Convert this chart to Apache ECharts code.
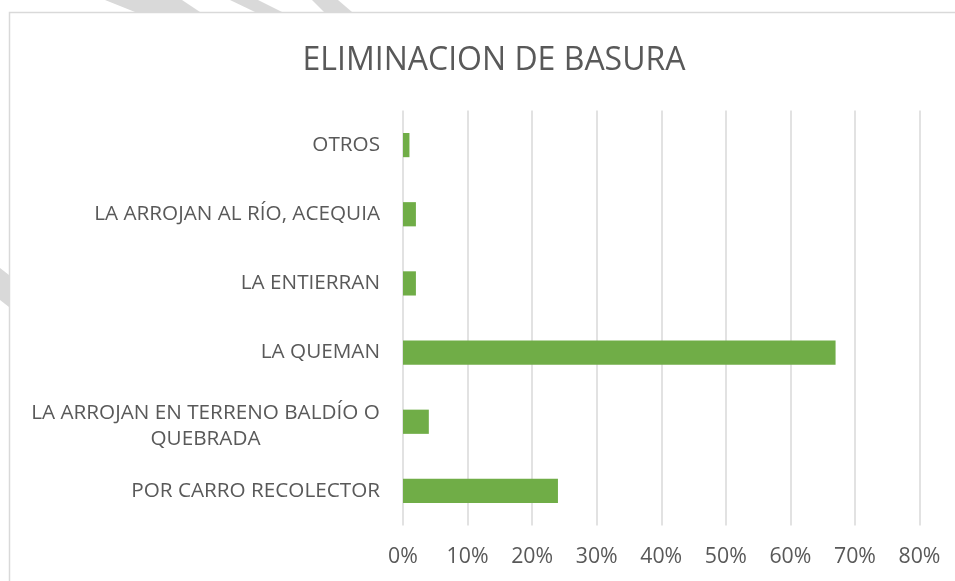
<!DOCTYPE html>
<html>
<head>
<meta charset="utf-8">
<script src="https://cdn.jsdelivr.net/npm/echarts@6/dist/echarts.min.js"></script>
<style>
html,body{margin:0;padding:0;background:#fff;}
#c{width:955px;height:581px;}
</style>
</head>
<body>
<div id="c"></div>
<script>
var titleText = 'ELIMINACION DE BASURA';
var categories = [
  'POR CARRO RECOLECTOR',
  'LA ARROJAN EN TERRENO BALDÍO O\nQUEBRADA',
  'LA QUEMAN',
  'LA ENTIERRAN',
  'LA ARROJAN AL RÍO, ACEQUIA',
  'OTROS'
];
var values = [24, 4, 67, 2, 2, 1];
var xTicks = [0, 10, 20, 30, 40, 50, 60, 70, 80];

var FONT = 'Open Sans';
var LABEL_SIZE = 20.7;
var XLABEL_SIZE = 21.3;
var TXT = '#595959';

function measure(t) {
  var cv = document.createElement('canvas').getContext('2d');
  cv.font = LABEL_SIZE + 'px "' + FONT + '"';
  return cv.measureText(t).width;
}

var maxW = 0;
categories.forEach(function (c) {
  if (c.indexOf('\n') >= 0) c.split('\n').forEach(function (p) { maxW = Math.max(maxW, measure(p)); });
});
maxW = Math.ceil(maxW);

var yData = categories.map(function (c) {
  if (c.indexOf('\n') < 0) return c;
  return {value: c, textStyle: {padding: [8, 0, 0, 0]}};
});

var chart = echarts.init(document.getElementById('c'), null, {renderer: 'canvas'});
var option = {
  backgroundColor: '#fff',
  animation: false,
  graphic: [
    {type: 'polygon', z: -10, shape: {points: [[105,0],[182,0],[200,12],[135,12]]}, style: {fill: '#d9d9d9'}},
    {type: 'polygon', z: -10, shape: {points: [[230,0],[258,0],[282,12],[255,12]]}, style: {fill: '#d9d9d9'}},
    {type: 'polygon', z: -10, shape: {points: [[312,0],[338,0],[352,12],[324,12]]}, style: {fill: '#d9d9d9'}},
    {type: 'polygon', z: -10, shape: {points: [[0,268],[9,275],[9,307],[0,300]]}, style: {fill: '#d9d9d9'}},
    {type: 'rect', z: -5, shape: {x: 9.5, y: 12.5, width: 960, height: 600}, style: {fill: '#fff', stroke: '#d9d9d9', lineWidth: 1.5}}
  ],
  title: {
    text: titleText,
    left: 489,
    textAlign: 'center',
    top: 40,
    textStyle: {fontFamily: FONT, fontSize: 32, fontWeight: 'normal', color: TXT}
  },
  grid: {left: 403, right: 35.5, top: 110.5, bottom: 55.5, containLabel: false},
  xAxis: {
    type: 'value',
    min: 0, max: 80, interval: 10,
    axisLine: {show: false},
    axisTick: {show: false},
    splitLine: {show: true, lineStyle: {color: '#d9d9d9', width: 1.5}},
    axisLabel: {
      margin: 21,
      fontFamily: FONT, fontSize: XLABEL_SIZE, color: TXT,
      formatter: function (v) { return v + '%'; }
    }
  },
  yAxis: {
    type: 'category',
    data: yData,
    axisLine: {show: false},
    axisTick: {show: false},
    splitLine: {show: false},
    axisLabel: {
      margin: 23,
      fontFamily: FONT, fontSize: LABEL_SIZE, color: TXT, lineHeight: 26,
      formatter: function (v) {
        if (v.indexOf('\n') < 0) return v;
        return v.split('\n').map(function (p) { return '{c|' + p + '}'; }).join('\n');
      },
      rich: {
        c: {width: maxW, align: 'center', fontFamily: FONT, fontSize: LABEL_SIZE, color: TXT, lineHeight: 26}
      }
    }
  },
  series: [{
    type: 'bar',
    data: values,
    barWidth: '35%',
    itemStyle: {color: '#70ad47'}
  }]
};
chart.setOption(option);
</script>
</body>
</html>
